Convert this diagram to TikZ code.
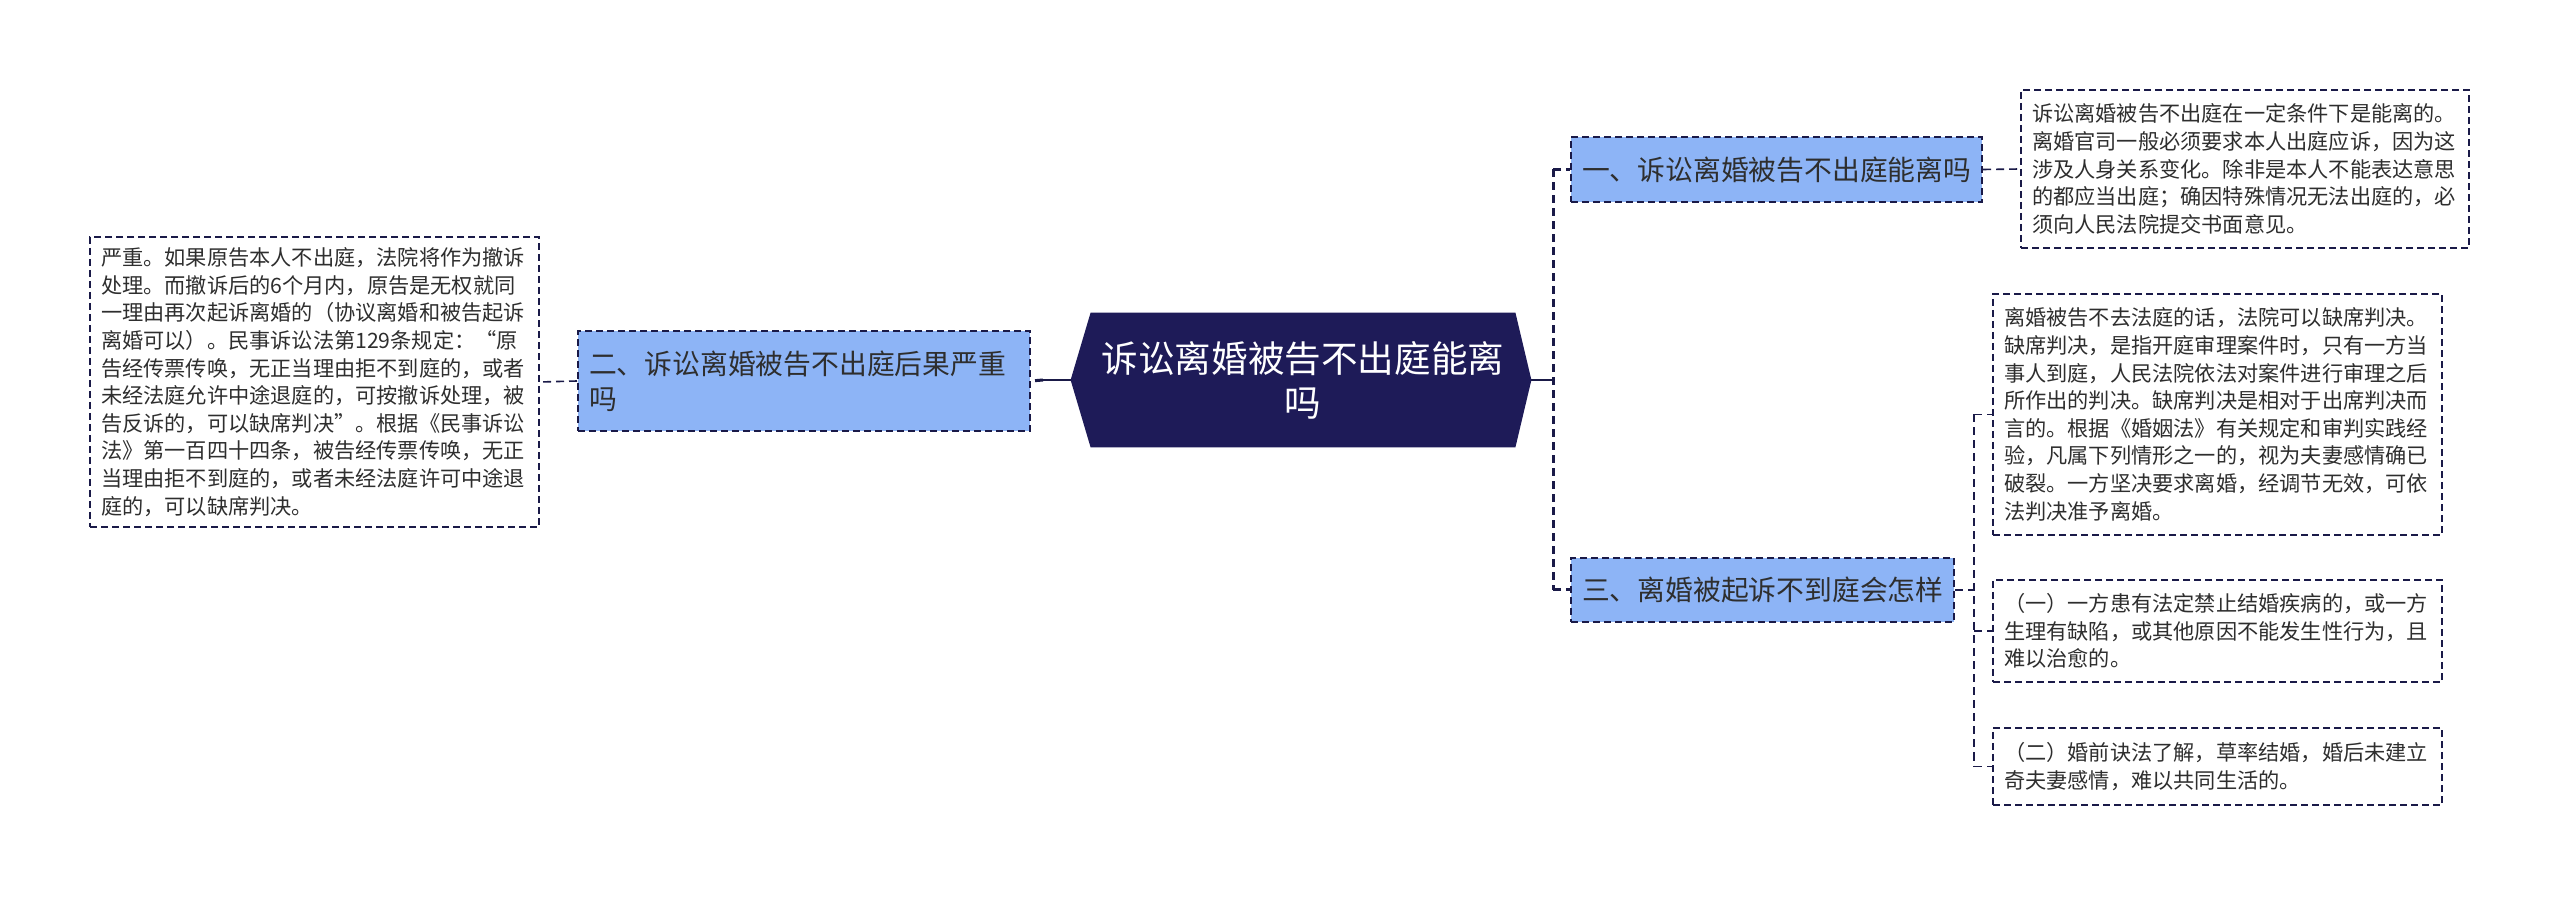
\documentclass[tikz,border=0pt]{standalone}
\usepackage{fontspec}
\newfontfamily\cjk{Noto Sans CJK SC}
\usetikzlibrary{calc,backgrounds}
\definecolor{navy}{HTML}{1E1B58}
\definecolor{lblue}{HTML}{8DB4F6}
\definecolor{edgec}{HTML}{1A1A48}
\definecolor{txt}{HTML}{2E2E2E}
\begin{document}
\begin{tikzpicture}[x=0.5pt,y=-0.5pt,
  boxdash/.style={dash pattern=on 3.5pt off 2pt},
  leaf/.style={draw=edgec, line width=0.9pt, boxdash, fill=white, text=txt, align=left,
    font=\cjk\fontsize{10.6}{13.8}\selectfont, inner xsep=5.5pt, inner ysep=0pt},
  topic/.style={draw=edgec, line width=1pt, boxdash, fill=lblue, text=txt, align=left,
    font=\cjk\fontsize{13.9}{17.5}\selectfont, inner xsep=5.5pt, inner ysep=0pt},
  rootnode/.style={text=white, align=center, font=\cjk\fontsize{18.3}{22}\selectfont,
    minimum width=212pt, minimum height=67pt, inner sep=0pt},
  mainlink/.style={draw=edgec, line width=1.5pt, dash pattern=on 4pt off 2.5pt},
  link/.style={draw=edgec, line width=0.8pt, dash pattern=on 4pt off 2.5pt},
  trunk/.style={draw=edgec, line width=1.1pt}]
\useasboundingbox (0,0) rectangle (2560,897);

% root
\node[rootnode] (c) at (1303,380) {诉讼离婚被告不出庭能离\\吗};
\coordinate (cL) at ($(c.west)+(-20,0)$);
\coordinate (cR) at ($(c.east)+(16,0)$);
\begin{scope}[on background layer]
  \fill[white] (0,0) rectangle (2560,897);
  \fill[navy] (c.north west) -- (c.north east) -- (cR) -- (c.south east) -- (c.south west) -- (cL) -- cycle;
\end{scope}

% topics
\node[topic, text width=215pt, minimum height=50pt] (n2) at (804,381) {二、诉讼离婚被告不出庭后果严重\\吗};
\node[topic, text width=194.5pt, minimum height=32.5pt] (n1) at (1776.5,169.5) {一、诉讼离婚被告不出庭能离吗};
\node[topic, text width=180.5pt, minimum height=32pt] (n3) at (1762.5,590) {三、离婚被起诉不到庭会怎样};

% leaves
\node[leaf, text width=213.5pt, minimum height=145pt] (lb) at (314.5,382) {严重。如果原告本人不出庭，法院将作为撤诉\\处理。而撤诉后的6个月内，原告是无权就同\\一理由再次起诉离婚的（协议离婚和被告起诉\\离婚可以）。民事诉讼法第129条规定：“原\\告经传票传唤，无正当理由拒不到庭的，或者\\未经法庭允许中途退庭的，可按撤诉处理，被\\告反诉的，可以缺席判决”。根据《民事诉讼\\法》第一百四十四条，被告经传票传唤，无正\\当理由拒不到庭的，或者未经法庭许可中途退\\庭的，可以缺席判决。};
\node[leaf, text width=213pt, minimum height=79pt] (tr) at (2245,169) {诉讼离婚被告不出庭在一定条件下是能离的。\\离婚官司一般必须要求本人出庭应诉，因为这\\涉及人身关系变化。除非是本人不能表达意思\\的都应当出庭；确因特殊情况无法出庭的，必\\须向人民法院提交书面意见。};
\node[leaf, text width=213.5pt, minimum height=120.5pt] (b1) at (2217.5,414.5) {离婚被告不去法庭的话，法院可以缺席判决。\\缺席判决，是指开庭审理案件时，只有一方当\\事人到庭，人民法院依法对案件进行审理之后\\所作出的判决。缺席判决是相对于出席判决而\\言的。根据《婚姻法》有关规定和审判实践经\\验，凡属下列情形之一的，视为夫妻感情确已\\破裂。一方坚决要求离婚，经调节无效，可依\\法判决准予离婚。};
\node[leaf, text width=213.5pt, minimum height=51pt] (b2) at (2217.5,631) {（一）一方患有法定禁止结婚疾病的，或一方\\生理有缺陷，或其他原因不能发生性行为，且\\难以治愈的。};
\node[leaf, text width=213.5pt, minimum height=38.5pt] (b3) at (2217.5,766.5) {（二）婚前诀法了解，草率结婚，婚后未建立\\奇夫妻感情，难以共同生活的。};

% connectors: left
\coordinate (jl) at (1043,380);
\draw[trunk] (cL) -- (jl);
\draw[mainlink] (jl) -- (n2.east);
\draw[link] (n2.west) -- (lb.east);

% connectors: right
\coordinate (jr) at (1553,380);
\draw[trunk] (cR) -- (jr);
\coordinate (j1) at (jr |- n1.west);
\coordinate (j3) at (jr |- n3.west);
\draw[mainlink] (j1) -- (j3);
\draw[mainlink] (j1) -- (n1.west);
\draw[mainlink] (j3) -- (n3.west);
\draw[link] (n1.east) -- (tr.west);

% connectors: topic three
\coordinate (kx) at (1974,590);
\coordinate (k1) at (kx |- b1.west);
\coordinate (k2) at (kx |- b2.west);
\coordinate (k3) at (kx |- b3.west);
\draw[link] (n3.east) -- (kx);
\draw[link] (k1) -- (k3);
\draw[link] (k1) -- (b1.west);
\draw[link] (k2) -- (b2.west);
\draw[link] (k3) -- (b3.west);
\end{tikzpicture}
\end{document}
